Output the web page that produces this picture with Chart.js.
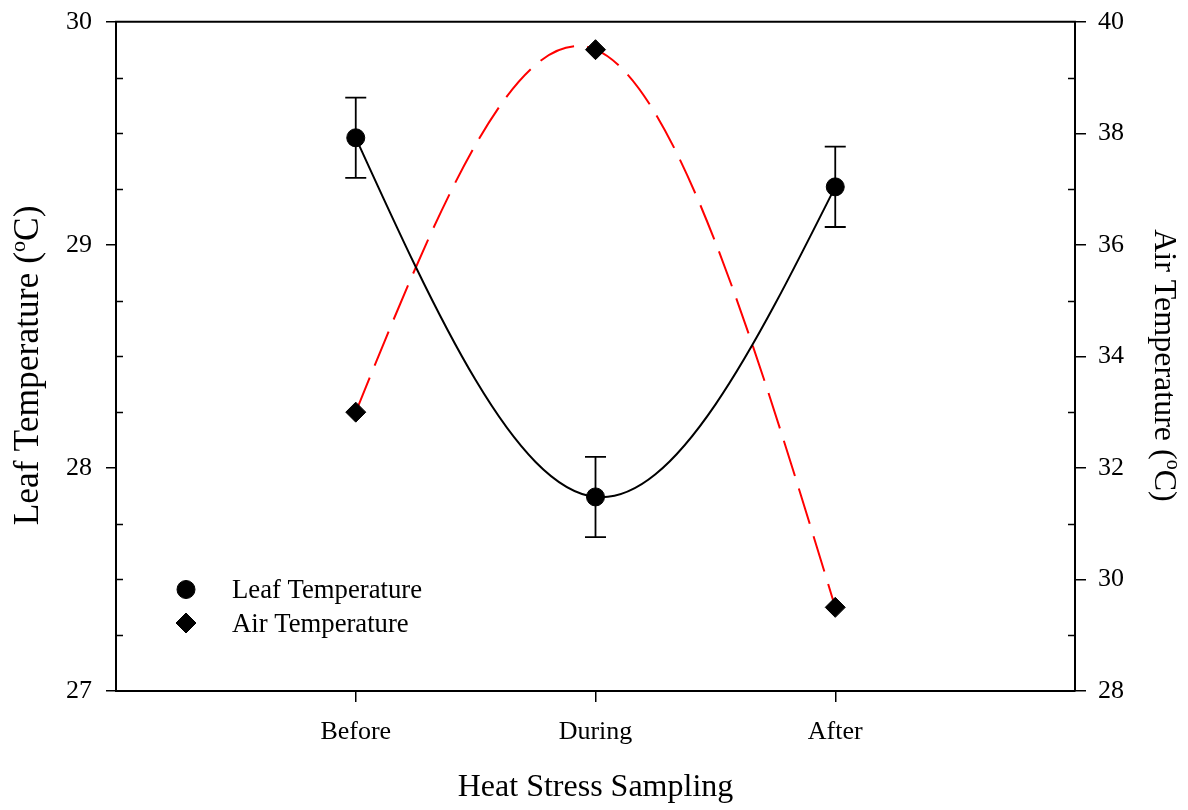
<!DOCTYPE html>
<html>
<head>
<meta charset="utf-8">
<title>Leaf and air temperature during heat stress sampling</title>
<script src="https://cdn.jsdelivr.net/npm/chart.js@4/dist/chart.umd.min.js"></script>
<style>
  html, body { margin: 0; padding: 0; background: #ffffff; }
  #wrap { width: 1188px; height: 810px; }
</style>
</head>
<body>
<div id="wrap"><canvas id="chart" width="1188" height="810"></canvas></div>
<script>
// Sampling stages and their positions on the x axis
const categories = ['Before', 'During', 'After'];
const categoryPos = [1, 2, 3];

// Leaf temperature (°C) with standard error
const leafTemp = [29.48, 27.87, 29.26];
const leafErr = [0.18, 0.18, 0.18];

// Air temperature (°C)
const airTemp = [33.0, 39.5, 29.5];

// Axis ticks
const leafTicks = [27, 28, 29, 30];
const leafMinorTicks = [27.25, 27.5, 27.75, 28.25, 28.5, 28.75, 29.25, 29.5, 29.75];
const airTicks = [28, 30, 32, 34, 36, 38, 40];
const airMinorTicks = [29, 31, 33, 35, 37, 39];

const FONT = "'Liberation Serif', 'Times New Roman', Times, serif";

// Natural cubic spline through the points of a line, expressed as Bezier control points
const naturalSpline = {
  id: 'naturalSpline',
  beforeDatasetDraw(chart, args) {
    const meta = args.meta;
    const line = meta.dataset;
    const pts = meta.data;
    const n = pts.length;
    if (!line || n < 3) return;
    line.updateControlPoints(chart.chartArea, 'x');
    const x = pts.map(p => p.x), y = pts.map(p => p.y);
    const h = [];
    for (let i = 0; i < n - 1; i++) h.push(x[i + 1] - x[i]);
    // tridiagonal solve for second derivatives, natural ends
    const M = new Array(n).fill(0);
    const a = [], b = [], c = [], d = [];
    for (let i = 1; i < n - 1; i++) {
      a.push(h[i - 1]);
      b.push(2 * (h[i - 1] + h[i]));
      c.push(h[i]);
      d.push(6 * ((y[i + 1] - y[i]) / h[i] - (y[i] - y[i - 1]) / h[i - 1]));
    }
    const m = b.length;
    for (let i = 1; i < m; i++) {
      const w = a[i] / b[i - 1];
      b[i] -= w * c[i - 1];
      d[i] -= w * d[i - 1];
    }
    const sol = new Array(m);
    sol[m - 1] = d[m - 1] / b[m - 1];
    for (let i = m - 2; i >= 0; i--) sol[i] = (d[i] - c[i] * sol[i + 1]) / b[i];
    for (let i = 0; i < m; i++) M[i + 1] = sol[i];
    for (let i = 0; i < n - 1; i++) {
      const s = (y[i + 1] - y[i]) / h[i];
      const d0 = s - h[i] * (2 * M[i] + M[i + 1]) / 6;
      const d1 = s + h[i] * (M[i] + 2 * M[i + 1]) / 6;
      pts[i].cp2x = x[i] + h[i] / 3;
      pts[i].cp2y = y[i] + d0 * h[i] / 3;
      pts[i + 1].cp1x = x[i + 1] - h[i] / 3;
      pts[i + 1].cp1y = y[i + 1] - d1 * h[i] / 3;
    }
    pts[0].cp1x = x[0]; pts[0].cp1y = y[0];
    pts[n - 1].cp2x = x[n - 1]; pts[n - 1].cp2y = y[n - 1];
    line._pointsUpdated = true;
    line._path = undefined;
  }
};

// Error bars, minor ticks, frame, axis titles and the inset legend
const decorations = {
  id: 'decorations',
  afterDatasetsDraw(chart) {
    const ctx = chart.ctx;
    const ys = chart.scales.y;
    const meta = chart.getDatasetMeta(0);
    ctx.save();
    ctx.strokeStyle = '#000';
    ctx.lineWidth = 1.8;
    meta.data.forEach((pt, i) => {
      const top = ys.getPixelForValue(leafTemp[i] + leafErr[i]);
      const bot = ys.getPixelForValue(leafTemp[i] - leafErr[i]);
      const cap = 10.5;
      ctx.beginPath();
      ctx.moveTo(pt.x, top); ctx.lineTo(pt.x, bot);
      ctx.moveTo(pt.x - cap, top); ctx.lineTo(pt.x + cap, top);
      ctx.moveTo(pt.x - cap, bot); ctx.lineTo(pt.x + cap, bot);
      ctx.stroke();
    });
    ctx.restore();
  },
  afterDraw(chart) {
    const ctx = chart.ctx;
    const area = chart.chartArea;
    const yl = chart.scales.y, yr = chart.scales.y2;
    ctx.save();
    ctx.strokeStyle = '#000';

    // top frame line
    ctx.lineWidth = 2;
    ctx.beginPath();
    ctx.moveTo(area.left - 1, area.top);
    ctx.lineTo(area.right + 1, area.top);
    ctx.stroke();

    // inward minor ticks
    ctx.lineWidth = 1.5;
    ctx.beginPath();
    leafMinorTicks.forEach(v => {
      const p = Math.round(yl.getPixelForValue(v)) + 0.5;
      ctx.moveTo(area.left, p); ctx.lineTo(area.left + 7, p);
    });
    airMinorTicks.forEach(v => {
      const p = Math.round(yr.getPixelForValue(v)) + 0.5;
      ctx.moveTo(area.right, p); ctx.lineTo(area.right - 7, p);
    });
    ctx.stroke();

    // axis titles
    ctx.fillStyle = '#000';
    ctx.textBaseline = 'alphabetic';
    const titleWithSup = (before, sup, after, size) => {
      ctx.font = size + 'px ' + FONT;
      const w1 = ctx.measureText(before).width;
      const w3 = ctx.measureText(after).width;
      const supSize = Math.round(size * 0.62);
      ctx.font = supSize + 'px ' + FONT;
      const w2 = ctx.measureText(sup).width;
      let x = -(w1 + w2 + w3) / 2;
      ctx.textAlign = 'left';
      ctx.font = size + 'px ' + FONT;
      ctx.fillText(before, x, 0);
      ctx.font = supSize + 'px ' + FONT;
      ctx.fillText(sup, x + w1, -size * 0.36);
      ctx.font = size + 'px ' + FONT;
      ctx.fillText(after, x + w1 + w2, 0);
    };
    const midY = (area.top + area.bottom) / 2 + 9;

    ctx.save();
    ctx.translate(area.left - 78, midY);
    ctx.rotate(-Math.PI / 2);
    titleWithSup('Leaf Temperature (', 'o', 'C)', 35.5);
    ctx.restore();

    ctx.save();
    ctx.translate(area.right + 80, midY);
    ctx.rotate(Math.PI / 2);
    titleWithSup('Air Temperature (', 'o', 'C)', 32);
    ctx.restore();

    ctx.font = '32px ' + FONT;
    ctx.textAlign = 'center';
    ctx.fillText('Heat Stress Sampling', (area.left + area.right) / 2, area.bottom + 105);

    // legend inside the plot
    const lx = area.left + 70;
    let ly = area.bottom - 93;
    chart.data.datasets.forEach(ds => {
      ctx.fillStyle = '#000';
      ctx.strokeStyle = '#000';
      ctx.lineWidth = 1;
      Chart.helpers.drawPoint(ctx, {
        pointStyle: ds.pointStyle, radius: ds.pointRadius, rotation: 0, borderWidth: 1
      }, lx, ly - 8.5);
      ctx.font = '26.7px ' + FONT;
      ctx.textAlign = 'left';
      ctx.fillText(ds.label, lx + 46, ly);
      ly += 33.5;
    });
    ctx.restore();
  }
};

const leafPoints = categoryPos.map((x, i) => ({ x, y: leafTemp[i] }));
const airPoints = categoryPos.map((x, i) => ({ x, y: airTemp[i] }));

new Chart(document.getElementById('chart'), {
  type: 'line',
  data: {
    datasets: [
      {
        label: 'Leaf Temperature',
        data: leafPoints,
        yAxisID: 'y',
        borderColor: '#000000',
        borderWidth: 2,
        tension: 0.4,
        pointStyle: 'circle',
        pointRadius: 9,
        pointBackgroundColor: '#000000',
        pointBorderColor: '#000000',
        pointBorderWidth: 1,
        fill: false
      },
      {
        label: 'Air Temperature',
        data: airPoints,
        yAxisID: 'y2',
        borderColor: '#ff0000',
        borderWidth: 2,
        borderDash: [37, 13],
        tension: 0.4,
        pointStyle: 'rectRot',
        pointRadius: 10,
        pointBackgroundColor: '#000000',
        pointBorderColor: '#000000',
        pointBorderWidth: 1,
        fill: false
      }
    ]
  },
  options: {
    responsive: false,
    devicePixelRatio: 1,
    animation: false,
    layout: { padding: { top: 20, left: 0, right: 0, bottom: 0 } },
    plugins: { legend: { display: false }, tooltip: { enabled: false } },
    scales: {
      x: {
        type: 'linear',
        min: 0,
        max: 4,
        afterBuildTicks: s => { s.ticks = categoryPos.map(v => ({ value: v })); },
        afterFit: s => { s.height = 119; },
        ticks: {
          callback: v => categories[categoryPos.indexOf(v)] ?? '',
          color: '#000',
          font: { family: FONT, size: 26 },
          padding: 15,
          maxRotation: 0,
          autoSkip: false
        },
        grid: { drawOnChartArea: false, drawTicks: true, tickLength: 11, color: '#000', lineWidth: 1.5 },
        border: { display: true, color: '#000', width: 2 }
      },
      y: {
        type: 'linear',
        position: 'left',
        min: 27,
        max: 30,
        afterBuildTicks: s => { s.ticks = leafTicks.map(v => ({ value: v })); },
        afterFit: s => { s.width = 116; },
        ticks: { color: '#000', font: { family: FONT, size: 26, lineHeight: 0.6 }, padding: 14 },
        grid: { drawOnChartArea: false, drawTicks: true, tickLength: 10, color: '#000', lineWidth: 1.5 },
        border: { display: true, color: '#000', width: 2 }
      },
      y2: {
        type: 'linear',
        position: 'right',
        min: 28,
        max: 40,
        afterBuildTicks: s => { s.ticks = airTicks.map(v => ({ value: v })); },
        afterFit: s => { s.width = 113; },
        ticks: { color: '#000', font: { family: FONT, size: 26, lineHeight: 0.6 }, padding: 12 },
        grid: { drawOnChartArea: false, drawTicks: true, tickLength: 11, color: '#000', lineWidth: 1.5 },
        border: { display: true, color: '#000', width: 2 }
      }
    }
  },
  plugins: [naturalSpline, decorations]
});
</script>
</body>
</html>
